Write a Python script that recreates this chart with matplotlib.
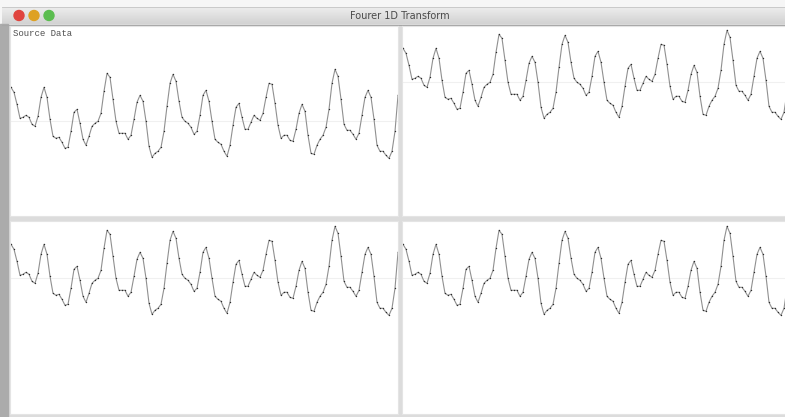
import matplotlib.pyplot as plt
from matplotlib.patches import Rectangle, Circle
from matplotlib.colors import LinearSegmentedColormap
import numpy as np

# Source signal, sampled every 3 px across a panel (amplitude in px above the centre line)
signal = [34, 29, 17, 3, 4, 6, 4, -3, -5, 5,
          24, 34, 24, 2, -15, -17, -16, -21, -27, -26,
          -10, 9, 12, -2, -18, -24, -15, -5, -2, 0,
          8, 30, 48, 44, 22, 0, -12, -12, -12, -18,
          -14, 2, 19, 26, 20, 0, -25, -36, -32, -30,
          -26, -10, 15, 38, 47, 40, 20, 4, 0, -2,
          -6, -13, -10, 6, 26, 31, 20, 0, -18, -21,
          -23, -30, -35, -24, -4, 14, 18, 4, -8, -8,
          -1, 6, 3, 1, 8, 24, 38, 37, 18, -4,
          -17, -14, -14, -19, -20, -8, 8, 17, 10, -14,
          -32, -33, -24, -18, -14, -6, 12, 38, 52, 45,
          22, -3, -9, -9, -13, -18, -12, 6, 24, 31,
          24, 2, -24, -30, -30, -34, -37, -30, -10, 26]

panel_titles = ["Source Data", "", "", ""]
window_title = "Fourer 1D Transform"

W, H = 785, 417
fig = plt.figure(figsize=(W / 100, H / 100), dpi=100)
fig.patch.set_facecolor("#f6f6f6")

# window chrome drawn in pixel coordinates
bg = fig.add_axes([0, 0, 1, 1])
bg.set_xlim(0, W)
bg.set_ylim(H, 0)
bg.axis("off")
bar_cmap = LinearSegmentedColormap.from_list("bar", ["#ededed", "#d2d2d2"])
grad = np.linspace(0, 1, 50).reshape(-1, 1)
bg.imshow(grad, extent=(2, W, 24, 7), cmap=bar_cmap, aspect="auto", zorder=1)
bg.plot([2, W], [7.3, 7.3], color="#c4c4c4", lw=0.6, zorder=3)
bg.add_patch(Rectangle((0, 24), W, H - 24, color="#dcdcdc", zorder=1))
bg.add_patch(Rectangle((0, 24), 8, H - 24, color="#ababab", zorder=2))
bg.plot([2, W], [24.5, 24.5], color="#a6a6a6", lw=0.8, zorder=3)
for cx, col in [(19, "#e0443e"), (34, "#dea123"), (49, "#5bbd4f")]:
    bg.add_patch(Circle((cx, 15.5), 5.0, color=col, zorder=3))
bg.text(400, 15.5, window_title, ha="center", va="center", fontsize=7,
        color="#4a4a4a", zorder=4)

# panel boxes (left, top, width, height) in px and centre-line position
panels = [(10, 26, 388, 190, 121.3),
          (402, 26, 388, 190, 82.3),
          (10, 221, 388, 193, 278.3),
          (402, 221, 388, 193, 278.3)]

idx = np.arange(len(signal))
for (x0, y0, w, h, yc), title in zip(panels, panel_titles):
    ax = fig.add_axes([x0 / W, 1 - (y0 + h) / H, w / W, h / H])
    ax.set_facecolor("white")
    for s in ax.spines.values():
        s.set_color("#e4e4e4")
        s.set_linewidth(0.8)
    ax.set_xticks([])
    ax.set_yticks([])
    ax.set_xlim(-1 / 3, (w - 1) / 3)
    ax.set_ylim(-(y0 + h - yc), yc - y0)
    ax.axhline(0, color="#f0f0f0", lw=0.8)
    ax.plot(idx, signal, color="#909090", lw=0.8)
    ax.plot(idx, signal, "o", color="#2a2a2a", ms=1.0, mew=0)
    if title:
        ax.text(3 / w, 1 - 8 / h, title, transform=ax.transAxes, ha="left",
                va="center", fontsize=6.5, family="Liberation Mono", color="#505050")

fig.savefig("out.png", dpi=100, facecolor=fig.get_facecolor())
